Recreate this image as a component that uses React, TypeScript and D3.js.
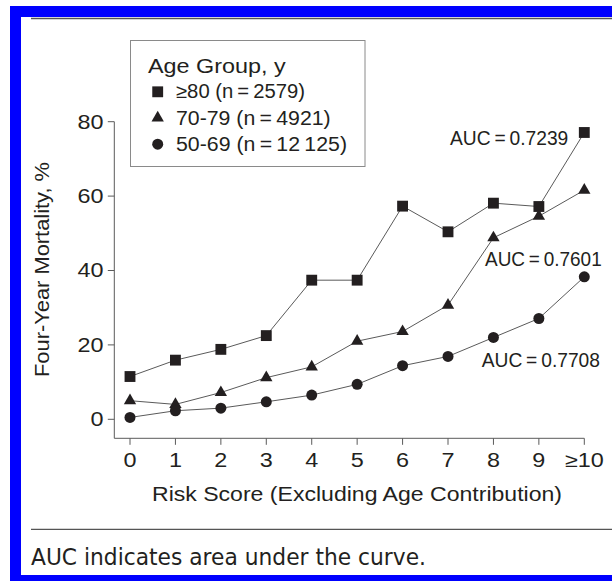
import React from "react";
import * as d3 from "d3";

// Risk score categories on the x axis
const riskScores = [0, 1, 2, 3, 4, 5, 6, 7, 8, 9, 10];
const riskLabels = ["0", "1", "2", "3", "4", "5", "6", "7", "8", "9", "\u226510"];
const yTicks = [0, 20, 40, 60, 80];

// Four-year mortality (%) by age group
const age80plus = [11.5, 15.9, 18.8, 22.5, 37.4, 37.4, 57.3, 50.4, 58.1, 57.2, 77.1];
const age70to79 = [5.0, 4.0, 7.2, 11.2, 14.1, 21.0, 23.6, 30.7, 48.8, 54.6, 61.6];
const age50to69 = [0.5, 2.3, 3.0, 4.7, 6.5, 9.4, 14.4, 16.9, 22.0, 27.1, 38.3];

const seriesNames = ["\u226580 (n\u2009=\u20092579)", "70-79 (n\u2009=\u20094921)", "50-69 (n\u2009=\u200912\u2009125)"];
const aucLabels = ["AUC\u2009=\u20090.7239", "AUC\u2009=\u20090.7601", "AUC\u2009=\u20090.7708"];

const INK = "#231f20";
const LINE = "#5a5a5a";
const FONT = "'Liberation Sans', Arial, Helvetica, sans-serif";
const FS = 19.5;
const WIDEN = 1.2;

const x = d3.scaleLinear().domain([0, 10]).range([130, 584.3]);
const y = d3.scaleLinear().domain([0, 80]).range([419.3, 121.7]);

const symbols = [d3.symbolSquare, d3.symbolTriangle, d3.symbolCircle];
const symbolSizes = [118, 66, 95];

function Marker({ kind, cx, cy }: { kind: number; cx: number; cy: number }) {
  const path = d3.symbol().type(symbols[kind]).size(symbolSizes[kind])() || "";
  return <path d={path} transform={`translate(${cx},${cy})`} fill={INK} />;
}

// Wide-set label: the face is drawn a little broader than the regular cut
function WideText({
  x: tx,
  y: ty,
  anchor = "start",
  children,
}: {
  x: number;
  y: number;
  anchor?: string;
  children: React.ReactNode;
}) {
  return (
    <text transform={`translate(${tx},${ty}) scale(${WIDEN},1)`} textAnchor={anchor}>
      {children}
    </text>
  );
}

export default function App() {
  const series = [age80plus, age70to79, age50to69];
  const line = d3
    .line<number>()
    .x((_, i) => x(riskScores[i]))
    .y((d) => y(d));

  const axisBottom = 438.3;
  const axisLeft = 114.3;
  const legendWidths = [129, 154.7, 171];

  return (
    <svg
      width={612}
      height={581}
      viewBox="0 0 612 581"
      style={{ position: "absolute", left: 0, top: 0, background: "#fff" }}
    >
      {/* frame */}
      <rect x={10} y={6} width={602} height={11} fill="#0000ff" />
      <rect x={10} y={6} width={11} height={575} fill="#0000ff" />
      <rect x={10} y={575} width={602} height={6} fill="#0000ff" />
      <line x1={31} x2={612} y1={18.5} y2={18.5} stroke="#555" strokeWidth={1.3} />
      <line x1={31} x2={612} y1={529.3} y2={529.3} stroke="#555" strokeWidth={1.3} />

      {/* axes */}
      <g stroke={LINE} strokeWidth={1} fill="none">
        <line x1={axisLeft} x2={axisLeft} y1={y(80)} y2={axisBottom} />
        <line x1={axisLeft} x2={x(10)} y1={axisBottom} y2={axisBottom} />
        {yTicks.map((t) => (
          <line key={`yt${t}`} x1={axisLeft - 6.5} x2={axisLeft} y1={y(t)} y2={y(t)} />
        ))}
        {riskScores.map((s) => (
          <line key={`xt${s}`} x1={x(s)} x2={x(s)} y1={axisBottom} y2={axisBottom + 6.5} />
        ))}
      </g>
      <g fontFamily={FONT} fontSize={FS} fill={INK}>
        {yTicks.map((t) => (
          <WideText key={`yl${t}`} x={103.5} y={y(t) + 6.8} anchor="end">
            {t}
          </WideText>
        ))}
        {riskScores.map((s, i) => (
          <WideText key={`xl${s}`} x={x(s)} y={466.7} anchor="middle">
            {riskLabels[i]}
          </WideText>
        ))}
        <text x={152} y={501} textLength={410} lengthAdjust="spacingAndGlyphs">
          Risk Score (Excluding Age Contribution)
        </text>
        <text
          transform={`translate(49,377) rotate(-90)`}
          textLength={215}
          lengthAdjust="spacingAndGlyphs"
        >
          Four-Year Mortality, %
        </text>
      </g>

      {/* series */}
      {series.map((vals, k) => (
        <g key={`s${k}`}>
          <path d={line(vals) || ""} fill="none" stroke={LINE} strokeWidth={1} />
          {vals.map((v, i) => (
            <Marker key={i} kind={k} cx={x(riskScores[i])} cy={y(v)} />
          ))}
        </g>
      ))}

      {/* AUC annotations */}
      <g fontFamily={FONT} fontSize={FS} fill={INK}>
        <text x={450} y={145} textLength={118.3} lengthAdjust="spacingAndGlyphs">
          {aucLabels[0]}
        </text>
        <text x={485} y={265.7} textLength={116.7} lengthAdjust="spacingAndGlyphs">
          {aucLabels[1]}
        </text>
        <text x={481.7} y={366.7} textLength={118.3} lengthAdjust="spacingAndGlyphs">
          {aucLabels[2]}
        </text>
      </g>

      {/* legend */}
      <g fontFamily={FONT} fontSize={FS} fill={INK}>
        <rect x={130.5} y={40.5} width={234.5} height={126} fill="#fff" stroke="#8a8a8a" strokeWidth={1} />
        <text x={148} y={72.7} textLength={137.7} lengthAdjust="spacingAndGlyphs">
          Age Group, y
        </text>
        {seriesNames.map((name, k) => {
          const base = 98.3 + k * 26.2;
          return (
            <g key={`lg${k}`}>
              <Marker kind={k} cx={157.7} cy={base - 6.5} />
              <text x={176} y={base} textLength={legendWidths[k]} lengthAdjust="spacingAndGlyphs">
                {name}
              </text>
            </g>
          );
        })}
      </g>

      {/* caption */}
      <text
        x={31}
        y={565}
        fontFamily="'DejaVu Sans', sans-serif"
        fontSize={22.5}
        fill={INK}
        textLength={395}
        lengthAdjust="spacingAndGlyphs"
      >
        AUC indicates area under the curve.
      </text>
    </svg>
  );
}
